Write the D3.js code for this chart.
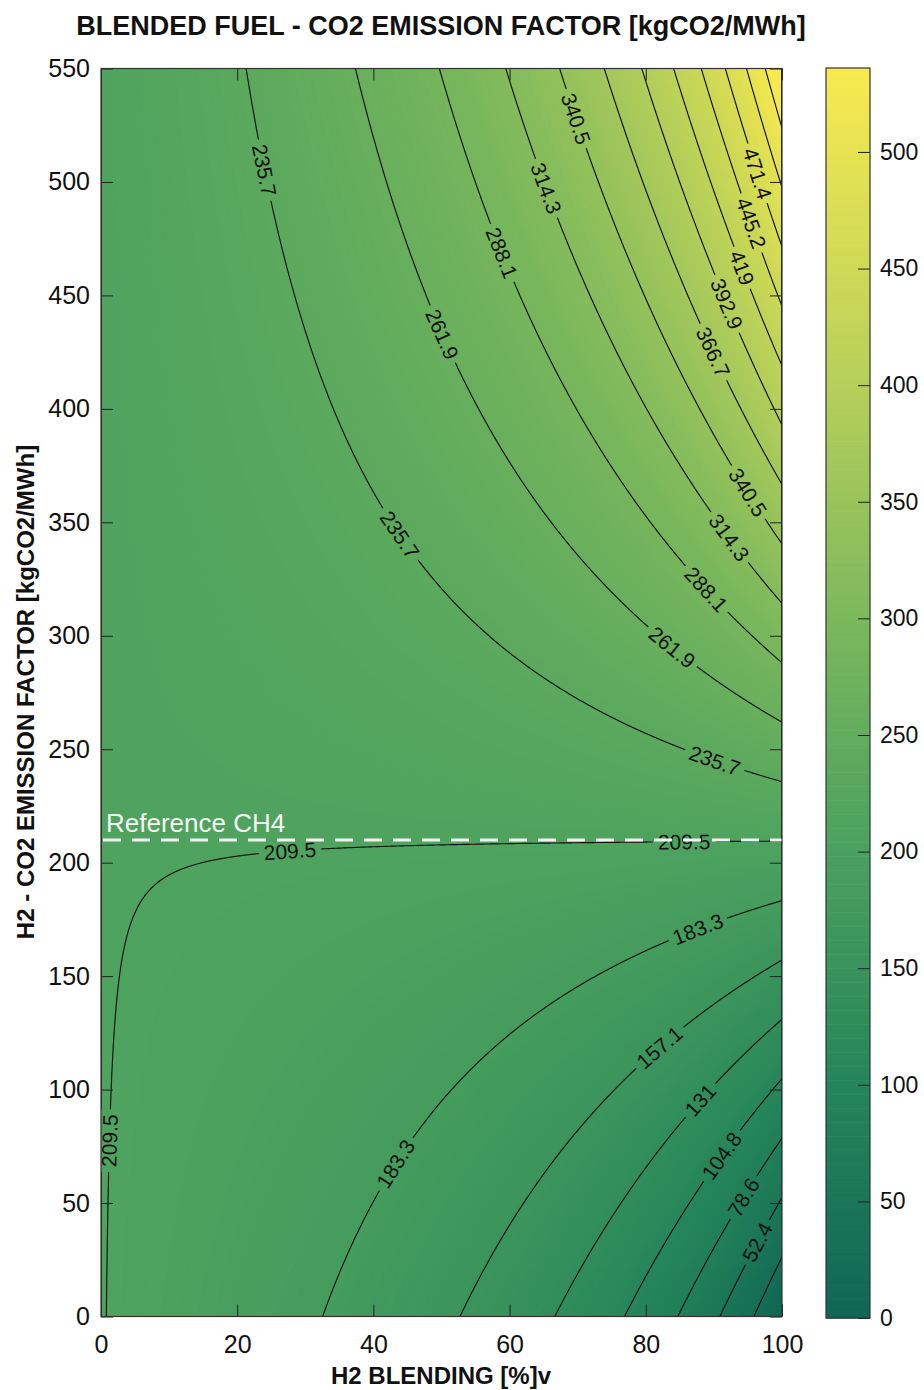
<!DOCTYPE html>
<html><head><meta charset="utf-8">
<script src="https://cdn.jsdelivr.net/npm/d3@7"></script>
<style>
html,body{margin:0;padding:0;background:#fff;}
svg{display:block;font-family:"Liberation Sans",Arial,Helvetica,sans-serif;}
</style></head><body>
<svg id="chart" width="924" height="1390"></svg>
<script>
// ---------------- data ----------------
const xTicks = [0, 20, 40, 60, 80, 100];
const yTicks = [0, 50, 100, 150, 200, 250, 300, 350, 400, 450, 500, 550];
const colorbarTicks = [0, 50, 100, 150, 200, 250, 300, 350, 400, 450, 500];
const contourLevels = [26.2, 52.4, 78.6, 104.8, 131, 157.1, 183.3, 209.5, 235.7, 261.9,
  288.1, 314.3, 340.5, 366.7, 392.9, 419, 445.2, 471.4, 497.6, 523.8];
const referenceCH4 = 210;          // dashed "Reference CH4" line, kgCO2/MWh
// the plotted surface is the energy-weighted mix of CH4 and H2; the H2/CH4 energy per
// volume ratio was read from where the contours meet the x axis (e.g. 183.3 at ~33 %)
const h2EnergyRatio = 0.302;
const colorbarMax = 536;
const colorStopValues = [0, 100, 210, 300, 400, 536];
const colorStopColors = ["#106654", "#25855a", "#4ea35e", "#7cb85c", "#b6cf5a", "#f8ea4f"];
// contour label spots: [level, blend %, H2 factor]
const labelSpots = [
  [235.7, 23.7, 505], [261.9, 49.9, 433], [288.1, 58.7, 468], [314.3, 65.3, 497], [340.5, 70.7, 528.7],
  [366.7, 89.9, 425], [392.9, 91.8, 446], [419, 93.5, 461], [445.2, 94.9, 481], [471.4, 96.3, 503.5],
  [340.5, 94.7, 363], [314.3, 92.2, 343.5], [288.1, 88.8, 320.5], [261.9, 83.7, 294], [235.7, 90.1, 244.7],
  [235.7, 44, 345], [209.5, 27.8, 204.6], [209.5, 85.6, 209], [209.5, 1.3, 78],
  [183.3, 87.6, 170.6], [183.3, 43.2, 67], [157.1, 82.2, 117.7], [131, 88, 95.7],
  [104.8, 91.3, 70.5], [78.6, 94.7, 51.6], [52.4, 96.5, 33]
];

// ---------------- layout ----------------
const W = 924, H = 1390;
const P = {left: 101, right: 782, top: 68.5, bottom: 1316.5};
const CB = {left: 826, right: 870, top: 68, bottom: 1318};
const X_MAX = 100, Y_MAX = 550;

const svg = d3.select("#chart");
const x = d3.scaleLinear().domain([0, X_MAX]).range([P.left, P.right]);
const y = d3.scaleLinear().domain([0, Y_MAX]).range([P.bottom, P.top]);
const color = d3.scaleLinear().domain(colorStopValues).range(colorStopColors).clamp(true);
const cb = d3.scaleLinear().domain([0, colorbarMax]).range([CB.bottom, CB.top]);

function blended(b, f) {
  const s = (b * h2EnergyRatio) / (b * h2EnergyRatio + (100 - b));
  return referenceCH4 + s * (f - referenceCH4);
}
function makeGrid(nx, ny) {
  const v = new Float64Array(nx * ny);
  for (let j = 0; j < ny; j++) {
    const fv = Y_MAX - j * Y_MAX / (ny - 1);
    for (let i = 0; i < nx; i++) v[j * nx + i] = blended(i * X_MAX / (nx - 1), fv);
  }
  return v;
}
function gridToPix(nx, ny) {
  return p => [x((p[0] - 0.5) * X_MAX / (nx - 1)), y(Y_MAX - (p[1] - 0.5) * Y_MAX / (ny - 1))];
}
function pathFor(nx, ny) {
  const t = gridToPix(nx, ny);
  return d3.geoPath(d3.geoTransform({point(px, py) { const q = t([px, py]); this.stream.point(q[0], q[1]); }}));
}

const defs = svg.append("defs");
defs.append("clipPath").attr("id", "plotClip").append("rect")
  .attr("x", P.left).attr("y", P.top).attr("width", P.right - P.left).attr("height", P.bottom - P.top);

// ---------------- filled field ----------------
const FNX = 201, FNY = 221;
const fieldVals = makeGrid(FNX, FNY);
const fillThresholds = d3.range(0, 552, 2);
const fillPath = pathFor(FNX, FNY);
const fillContours = d3.contours().size([FNX, FNY]).thresholds(fillThresholds)(fieldVals);
svg.append("g").attr("clip-path", "url(#plotClip)")
  .selectAll("path").data(fillContours).join("path")
  .attr("d", fillPath)
  .attr("fill", d => color(d.value + 1))
  .attr("stroke", d => color(d.value + 1)).attr("stroke-width", 0.6);

// ---------------- contour lines ----------------
const LNX = 801, LNY = 441;
const lineVals = makeGrid(LNX, LNY);
const lineGen = d3.contours().size([LNX, LNY]);
const linePath = pathFor(LNX, LNY);
const toPix = gridToPix(LNX, LNY);
const lineGeoms = new Map(contourLevels.map(l => [l, lineGen.contour(lineVals, l)]));

const mask = defs.append("mask").attr("id", "gapMask").attr("maskUnits", "userSpaceOnUse")
  .attr("x", 0).attr("y", 0).attr("width", W).attr("height", H);
mask.append("rect").attr("x", 0).attr("y", 0).attr("width", W).attr("height", H).attr("fill", "#fff");

svg.append("g").attr("clip-path", "url(#plotClip)")
  .append("g").attr("mask", "url(#gapMask)")
  .selectAll("path").data(contourLevels).join("path")
  .attr("d", l => linePath(lineGeoms.get(l)))
  .attr("fill", "none").attr("stroke", "#111").attr("stroke-width", 1.15);

// labels
const labelG = svg.append("g").attr("clip-path", "url(#plotClip)");
labelSpots.forEach(([lev, bx, fy]) => {
  const sx = x(bx), sy = y(fy);
  let best = null, bestD = Infinity;
  lineGeoms.get(lev).coordinates.forEach(poly => poly.forEach(ring => {
    const pts = ring.map(toPix);
    pts.forEach((p, i) => {
      if (p[0] < P.left || p[0] > P.right || p[1] < P.top || p[1] > P.bottom) return;
      const d = (p[0] - sx) ** 2 + (p[1] - sy) ** 2;
      if (d < bestD) { bestD = d; best = {pts, i}; }
    });
  }));
  if (!best) return;
  const {pts, i} = best, n = pts.length, c = pts[i];
  const dist = p => Math.hypot(p[0] - c[0], p[1] - c[1]);
  let a = i, b = i;
  for (let k = 1; k < n / 2; k++) { a = (i - k + n) % n; if (dist(pts[a]) >= 14) break; }
  for (let k = 1; k < n / 2; k++) { b = (i + k) % n; if (dist(pts[b]) >= 14) break; }
  let ang = Math.atan2(pts[b][1] - pts[a][1], pts[b][0] - pts[a][0]) * 180 / Math.PI;
  while (ang >= 90) ang -= 180;
  while (ang < -90) ang += 180;
  const tr = `translate(${c[0]},${c[1]}) rotate(${ang})`;
  const t = labelG.append("text").attr("transform", tr)
    .attr("text-anchor", "middle").attr("dy", "0.36em")
    .attr("font-size", 21).attr("fill", "#111").text(String(lev));
  const w = t.node().getComputedTextLength();
  mask.append("rect").attr("transform", tr)
    .attr("x", -w / 2 - 5).attr("y", -11).attr("width", w + 10).attr("height", 22).attr("fill", "#000");
});

// ---------------- reference CH4 line ----------------
svg.append("line").attr("clip-path", "url(#plotClip)")
  .attr("x1", x(0) + 2).attr("x2", x(X_MAX)).attr("y1", y(referenceCH4)).attr("y2", y(referenceCH4))
  .attr("stroke", "#f2f2f2").attr("stroke-width", 3).attr("stroke-dasharray", "18,11");
svg.append("text").attr("x", x(0) + 5).attr("y", y(referenceCH4) - 8)
  .attr("font-size", 26).attr("fill", "#f7f7f7").text("Reference CH4");

// ---------------- axes ----------------
function styleAxis(g) {
  g.select(".domain").remove();
  g.selectAll(".tick line").attr("stroke", "#222").attr("stroke-width", 1);
  g.selectAll(".tick text").attr("fill", "#111").attr("font-family", "Liberation Sans, Arial, sans-serif");
}
svg.append("g").attr("transform", `translate(0,${P.bottom})`)
  .call(d3.axisBottom(x).tickValues(xTicks).tickSize(-12).tickPadding(18.5).tickSizeOuter(0))
  .attr("font-size", 25).call(styleAxis);
svg.append("g").attr("transform", `translate(0,${P.top})`)
  .call(d3.axisTop(x).tickValues(xTicks).tickSize(-12).tickFormat("").tickSizeOuter(0)).call(styleAxis);
svg.append("g").attr("transform", `translate(${P.left},0)`)
  .call(d3.axisLeft(y).tickValues(yTicks).tickSize(-12).tickPadding(11).tickSizeOuter(0))
  .attr("font-size", 25).call(styleAxis);
svg.append("g").attr("transform", `translate(${P.right},0)`)
  .call(d3.axisRight(y).tickValues(yTicks).tickSize(-12).tickFormat("").tickSizeOuter(0)).call(styleAxis);
svg.append("rect").attr("x", P.left).attr("y", P.top)
  .attr("width", P.right - P.left).attr("height", P.bottom - P.top)
  .attr("fill", "none").attr("stroke", "#333").attr("stroke-width", 1.2);

// ---------------- colorbar ----------------
const cbStep = 2;
svg.append("g").selectAll("rect").data(d3.range(0, colorbarMax, cbStep)).join("rect")
  .attr("x", CB.left).attr("width", CB.right - CB.left)
  .attr("y", v => cb(Math.min(v + cbStep, colorbarMax)))
  .attr("height", v => cb(v) - cb(Math.min(v + cbStep, colorbarMax)) + 0.6)
  .attr("fill", v => color(v + cbStep / 2));
svg.append("g").attr("transform", `translate(${CB.right},0)`)
  .call(d3.axisRight(cb).tickValues(colorbarTicks).tickSize(-12).tickPadding(10).tickSizeOuter(0))
  .attr("font-size", 23).call(styleAxis);
svg.append("rect").attr("x", CB.left).attr("y", CB.top)
  .attr("width", CB.right - CB.left).attr("height", CB.bottom - CB.top)
  .attr("fill", "none").attr("stroke", "#333").attr("stroke-width", 1.2);

// ---------------- titles ----------------
svg.append("text").attr("x", 441).attr("y", 35).attr("text-anchor", "middle")
  .attr("font-size", 27).attr("font-weight", "bold").attr("fill", "#111")
  .text("BLENDED FUEL - CO2 EMISSION FACTOR [kgCO2/MWh]");
svg.append("text").attr("x", 441).attr("y", 1384).attr("text-anchor", "middle")
  .attr("font-size", 24).attr("font-weight", "bold").attr("fill", "#111")
  .text("H2 BLENDING [%]v");
svg.append("text").attr("transform", "translate(34,692) rotate(-90)").attr("text-anchor", "middle")
  .attr("font-size", 24).attr("font-weight", "bold").attr("fill", "#111")
  .text("H2 - CO2 EMISSION FACTOR [kgCO2/MWh]");
</script>
</body></html>
